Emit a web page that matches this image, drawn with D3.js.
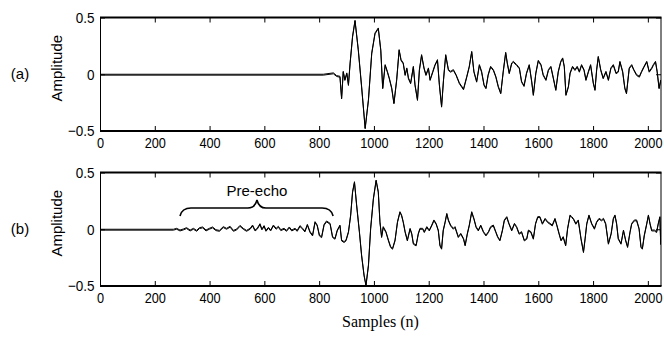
<!DOCTYPE html>
<html lang="en">

<head>
  <meta charset="UTF-8">
  <title>Pre-echo signals</title>
  <script src="https://d3js.org/d3.v7.min.js"></script>
  <style>
    body {
      margin: 0;
      background: #ffffff;
    }

    .tick text {
      font-family: 'Liberation Sans', Arial, sans-serif;
      font-size: 15px;
      fill: #000;
    }

    .tick line {
      stroke: #000;
    }

    .label {
      font-family: 'Liberation Sans', Arial, sans-serif;
      font-size: 15px;
      fill: #000;
    }

    .signal {
      fill: none;
      stroke: #000;
      stroke-width: 1;
    }
  </style>
</head>

<body>
  <div id="chart"></div>

  <script>
    // axis ticks
    const xTicks = [0, 200, 400, 600, 800, 1000, 1200, 1400, 1600, 1800, 2000];
    const yTicks = [-0.5, 0, 0.5];

    // (a) original signal, vertices
    const sampleA = [0, 815, 852, 864, 876, 882, 888, 894, 901, 907, 913, 922, 931, 943, 955, 968, 980, 992, 1004, 1016,
      1025, 1032, 1041, 1049, 1056, 1065, 1073, 1083, 1092, 1099, 1107, 1114, 1120, 1126, 1134, 1144, 1150, 1159, 1166, 1174,
      1183, 1190, 1199, 1205, 1215, 1223, 1232, 1239, 1247, 1254, 1262, 1272, 1280, 1290, 1300, 1312, 1327, 1339, 1348, 1357,
      1365, 1375, 1385, 1393, 1402, 1409, 1417, 1426, 1436, 1445, 1454, 1463, 1472, 1481, 1487, 1494, 1503, 1509, 1521, 1531,
      1539, 1548, 1557, 1567, 1576, 1582, 1591, 1600, 1610, 1618, 1628, 1637, 1646, 1655, 1664, 1673, 1682, 1689, 1695, 1701,
      1710, 1716, 1725, 1734, 1742, 1750, 1758, 1767, 1774, 1783, 1791, 1801, 1807, 1813, 1819, 1828, 1837, 1847, 1856, 1865,
      1874, 1884, 1892, 1898, 1908, 1916, 1922, 1932, 1941, 1949, 1959, 1969, 1977, 1986, 1996, 2005, 2014, 2020, 2028, 2034,
      2041, 2047];
    const valueA = [0, 0, 0.012, -0.012, -0.018, -0.21, 0.026, -0.047, 0.012, -0.091, 0.100, 0.335, 0.476, 0.217, -0.106, -0.473, -0.223, 0.188, 0.364, 0.408,
      0.217, -0.120, 0.085, 0.026, -0.032, -0.120, -0.253, -0.047, 0.217, 0.129, 0.100, -0.003, 0.056, -0.032, -0.076, 0.070, -0.091, -0.223, 0.041, 0.173,
      0.056, -0.003, 0.056, -0.047, 0.026, 0.085, 0.129, -0.091, -0.282, -0.047, 0.173, 0.041, 0.026, 0.041, -0.003, -0.076, -0.129, -0.018, 0.070, 0.202,
      0.026, -0.062, 0.085, 0.026, -0.091, -0.120, -0.003, 0.070, 0.041, -0.018, -0.106, -0.165, 0.026, 0.194, 0.100, 0.012, 0.100, 0.114, 0.085, 0.056,
      -0.062, -0.100, 0.012, 0.085, -0.062, -0.179, 0.012, 0.123, 0.085, -0.003, -0.047, 0.041, 0.070, -0.032, -0.135, 0.026, 0.114, 0.144, 0.070, -0.179,
      -0.106, 0.012, 0.070, 0.041, 0.070, 0.026, 0.085, 0.041, -0.047, 0.026, 0.085, -0.076, -0.135, 0.041, 0.158, 0.041, -0.032, 0.026, -0.047, 0.056,
      0.085, 0.012, 0.026, 0.114, 0.026, -0.120, -0.165, 0.056, 0.085, 0.041, -0.003, -0.018, 0.026, 0.070, 0.114, 0.026, 0.056, 0.085, 0.114, 0.026,
      -0.120, -0.05];

    // (b) signal with pre-echo
    const sampleB = [0, 268, 280, 292, 304, 316, 329, 341, 353, 363, 375, 387, 399, 411, 423, 436, 450, 462, 475, 487,
      499, 511, 523, 535, 548, 557, 566, 574, 584, 591, 599, 606, 615, 623, 633, 643, 651, 660, 672, 681,
      691, 700, 712, 720, 730, 740, 748, 757, 767, 776, 785, 793, 801, 809, 818, 827, 840, 849, 858, 866,
      876, 882, 891, 898, 907, 915, 922, 929, 937, 947, 955, 964, 971, 980, 988, 998, 1008, 1016, 1022, 1028,
      1034, 1044, 1053, 1061, 1068, 1077, 1086, 1095, 1101, 1107, 1114, 1122, 1132, 1138, 1144, 1154, 1162, 1168, 1178, 1184,
      1193, 1202, 1211, 1219, 1227, 1235, 1241, 1247, 1253, 1260, 1266, 1272, 1280, 1290, 1296, 1308, 1317, 1327, 1333, 1341,
      1348, 1357, 1365, 1373, 1381, 1390, 1400, 1409, 1418, 1426, 1436, 1445, 1452, 1460, 1469, 1476, 1485, 1493, 1503, 1513,
      1521, 1530, 1539, 1549, 1558, 1564, 1573, 1582, 1590, 1598, 1606, 1615, 1625, 1634, 1643, 1651, 1661, 1668, 1676, 1683,
      1691, 1700, 1707, 1716, 1722, 1728, 1737, 1746, 1756, 1765, 1771, 1777, 1785, 1795, 1805, 1813, 1822, 1831, 1838, 1846,
      1856, 1866, 1874, 1880, 1886, 1892, 1902, 1911, 1919, 1926, 1935, 1941, 1951, 1959, 1968, 1975, 1980, 1987, 1996, 2002,
      2008, 2014, 2024, 2032, 2038, 2044, 2047];
    const valueB = [0, 0, 0.008, -0.007, 0.002, 0.014, -0.007, 0.008, -0.010, 0.014, 0.020, -0.007, 0.008, 0.020, -0.004, -0.010, 0.023, 0.008, 0.026, -0.010,
      0.002, 0.034, 0.008, -0.010, 0.008, 0.037, -0.007, 0.008, 0.049, 0.002, 0.032, -0.010, 0.017, -0.007, 0.037, 0.008, 0.026, -0.004, 0.008, -0.010,
      0.020, -0.007, 0.008, -0.010, 0.032, 0.008, -0.016, 0.043, -0.022, -0.051, 0.067, 0.037, -0.051, -0.066, 0.043, 0.073, 0.052, -0.065, -0.080, -0.007,
      0.037, -0.095, -0.109, -0.095, -0.021, 0.126, 0.331, 0.419, 0.213, -0.021, -0.227, -0.403, -0.491, -0.315, 0.008, 0.272, 0.434, 0.331, 0.067, -0.065,
      0.023, -0.021, -0.095, -0.153, -0.168, -0.095, 0.067, 0.155, 0.126, 0.067, -0.021, -0.095, 0.008, -0.036, -0.124, -0.139, -0.036, 0.008, 0.008, -0.021,
      0.023, -0.007, 0.037, 0.082, 0.052, -0.007, -0.139, -0.168, -0.007, 0.067, 0.140, 0.082, 0.037, 0.008, 0.023, -0.065, -0.036, -0.080, -0.139, -0.036,
      0.037, 0.155, 0.096, 0.023, -0.007, 0.037, -0.021, -0.051, -0.021, 0.023, 0.037, -0.021, -0.065, -0.095, -0.007, 0.082, 0.111, 0.052, -0.007, 0.052,
      0.023, -0.036, -0.021, -0.095, -0.080, -0.007, -0.021, -0.080, 0.052, 0.111, 0.111, 0.052, 0.096, 0.067, 0.052, 0.037, 0.096, 0.037, -0.036, -0.095,
      -0.065, -0.139, 0.008, 0.126, 0.111, 0.096, 0.052, 0.082, -0.080, -0.198, -0.080, 0.052, 0.126, 0.052, 0.008, 0.067, 0.096, 0.082, 0.096, 0.052,
      -0.124, -0.036, 0.096, 0.126, 0.052, -0.080, -0.124, -0.007, -0.095, -0.153, -0.021, 0.052, 0.082, 0.082, 0.008, -0.153, -0.168, -0.051, 0.052, 0.126,
      0.052, -0.007, -0.007, -0.021, 0.052, 0.111, -0.13];

    const panelLabels = ['(a)', '(b)'];

    // brace over the pre-echo (in data units of panel b)
    const braceStart = 292, braceTip = 573, braceEnd = 851;

    const width = 664;
    const height = 352;

    const svg = d3.select('#chart').append('svg')
      .attr('width', width)
      .attr('height', height);

    const x = d3.scaleLinear().domain([0, 2048]).range([100, 661]);

    const panels = [
      { top: 17.5, bottom: 131, samples: sampleA, values: valueA, label: panelLabels[0] },
      { top: 172.5, bottom: 286, samples: sampleB, values: valueB, label: panelLabels[1] }
    ];

    panels.forEach((p, k) => {
      const y = d3.scaleLinear().domain([-0.5, 0.5]).range([p.bottom, p.top]);
      p.y = y;
      const g = svg.append('g');

      // clip for the trace
      svg.append('clipPath').attr('id', 'clip' + k)
        .append('rect')
        .attr('x', x(0)).attr('y', p.top)
        .attr('width', x(2048) - x(0)).attr('height', p.bottom - p.top);

      // bottom axis with labels, ticks point inward
      const bottomAxis = g.append('g')
        .attr('transform', `translate(0,${p.bottom})`)
        .call(d3.axisBottom(x).tickValues(xTicks).tickSizeInner(-5).tickSizeOuter(0).tickPadding(6)
          .tickFormat(d3.format('d')));
      bottomAxis.selectAll('.tick text').attr('transform', 'scale(0.85,1)');

      g.append('g')
        .attr('transform', `translate(0,${p.top})`)
        .call(d3.axisTop(x).tickValues(xTicks).tickSizeInner(-5).tickSizeOuter(0).tickFormat(''));

      const leftAxis = g.append('g')
        .attr('transform', `translate(${x(0)},0)`)
        .call(d3.axisLeft(y).tickValues(yTicks).tickSizeInner(-5).tickSizeOuter(0).tickPadding(6)
          .tickFormat(d => d === 0 ? '0' : d3.format('.1f')(d)));
      leftAxis.selectAll('.tick text').attr('transform', 'scale(0.9,1)');

      g.append('g')
        .attr('transform', `translate(${x(2048)},0)`)
        .call(d3.axisRight(y).tickValues(yTicks).tickSizeInner(-5).tickSizeOuter(0).tickFormat(''));

      g.selectAll('.domain').remove();

      // box: horizontal edges heavier than vertical ones
      g.append('line').attr('x1', x(0)).attr('x2', x(2048) + 0.5).attr('y1', p.top).attr('y2', p.top)
        .attr('stroke', '#000').attr('stroke-width', 2);
      g.append('line').attr('x1', x(0)).attr('x2', x(2048) + 0.5).attr('y1', p.bottom).attr('y2', p.bottom)
        .attr('stroke', '#000').attr('stroke-width', 2);
      g.append('line').attr('x1', x(0) + 0.5).attr('x2', x(0) + 0.5).attr('y1', p.top).attr('y2', p.bottom)
        .attr('stroke', '#000').attr('stroke-width', 1);
      g.append('line').attr('x1', x(2048)).attr('x2', x(2048)).attr('y1', p.top).attr('y2', p.bottom)
        .attr('stroke', '#000').attr('stroke-width', 1);

      // trace, drawn twice with a 1px vertical shift so flat parts look bold
      const pts = p.samples.map((s, i) => [s, p.values[i]]);
      const line = d3.line().x(d => x(d[0])).y(d => y(d[1]));
      const tg = g.append('g').attr('clip-path', `url(#clip${k})`);
      tg.append('path').attr('class', 'signal').attr('d', line(pts));
      tg.append('path').attr('class', 'signal').attr('d', line(pts)).attr('transform', 'translate(0,0.9)');

      // y label
      const mid = (p.top + p.bottom) / 2;
      g.append('text').attr('class', 'label')
        .attr('transform', `translate(62,${mid - 6}) rotate(-90)`)
        .attr('text-anchor', 'middle')
        .text('Amplitude');

      // panel tag
      g.append('text').attr('class', 'label')
        .attr('x', 20).attr('y', mid + 5)
        .attr('text-anchor', 'middle')
        .text(p.label);
    });

    // pre-echo brace in panel (b)
    const yb = panels[1].y;
    const bx0 = x(braceStart), bx1 = x(braceTip), bx2 = x(braceEnd);
    const by = yb(0.187), byEnd = yb(0.117), byTip = yb(0.258);
    const brace = d3.path();
    brace.moveTo(bx0, byEnd);
    brace.quadraticCurveTo(bx0 + 2, by, bx0 + 11, by);
    brace.lineTo(bx1 - 9, by);
    brace.quadraticCurveTo(bx1 - 2, by, bx1, byTip);
    brace.quadraticCurveTo(bx1 + 2, by, bx1 + 9, by);
    brace.lineTo(bx2 - 11, by);
    brace.quadraticCurveTo(bx2 - 2, by, bx2, byEnd);
    svg.append('path')
      .attr('d', brace.toString())
      .attr('fill', 'none')
      .attr('stroke', '#000')
      .attr('stroke-width', 1.6);

    svg.append('text').attr('class', 'label')
      .attr('x', bx1).attr('y', yb(0.29))
      .attr('text-anchor', 'middle')
      .text('Pre-echo');

    // shared x label
    svg.append('text')
      .attr('x', (x(0) + x(2048)) / 2)
      .attr('y', 327)
      .attr('text-anchor', 'middle')
      .attr('font-family', "'Liberation Serif', 'Times New Roman', serif")
      .attr('font-size', 16)
      .text('Samples (n)');
  </script>

</body>

</html>
